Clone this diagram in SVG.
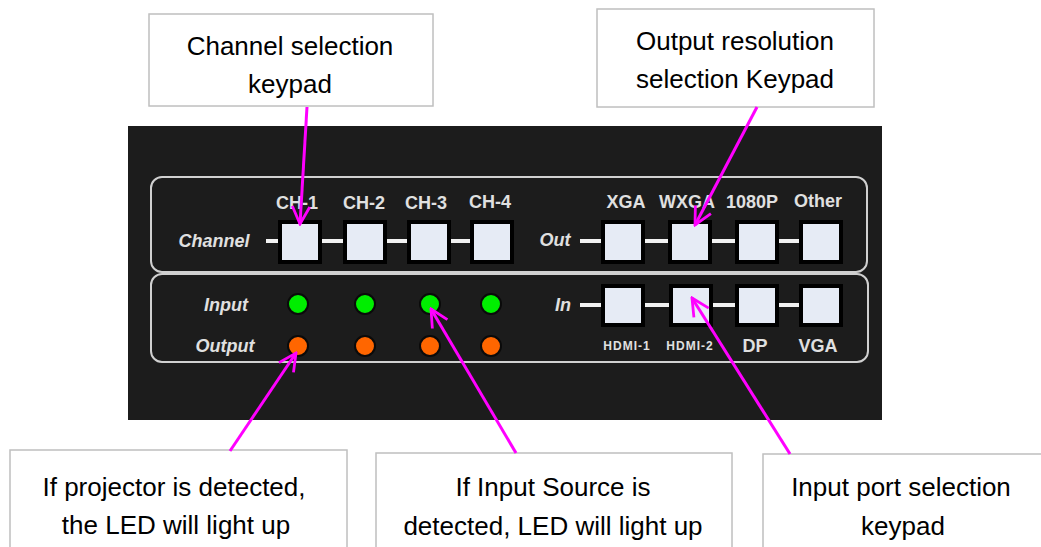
<svg xmlns="http://www.w3.org/2000/svg" width="1041" height="547" viewBox="0 0 1041 547">
<style>
.note{fill:#fff;stroke:#bfbfbf;stroke-width:1.5}
.nt{font-family:"Liberation Sans",Arial,sans-serif;font-size:26px;fill:#000;text-anchor:middle}
.frame{fill:none;stroke:#d0d0d0;stroke-width:2}
.btn{fill:#e6ebf5;stroke:#000;stroke-width:4}
.lbl{font-family:"Liberation Sans",Arial,sans-serif;font-weight:bold;font-size:18px;fill:#e0e0e0;text-anchor:middle}
.sm{font-size:12px;letter-spacing:1px}
.it{font-family:"Liberation Sans",Arial,sans-serif;font-weight:bold;font-style:italic;font-size:18px;fill:#e0e0e0;text-anchor:middle}
.wire{stroke:#f2f2f2;stroke-width:4}
.gled{fill:#00ee00;stroke:#0a0a0a;stroke-width:2}
.oled{fill:#ff6600;stroke:#0a0a0a;stroke-width:2}
.arr{stroke:#ff00ff;stroke-width:3;fill:none;marker-end:url(#ah)}
</style>
<defs>
<marker id="ah" viewBox="0 0 12 12" refX="11" refY="6" markerWidth="7" markerHeight="7" orient="auto" markerUnits="strokeWidth">
<polyline points="1,1 11,6 1,11" fill="none" stroke="#ff00ff" stroke-width="1.6"/>
</marker>
</defs>
<rect width="1041" height="547" fill="#fff"/>
<g id="panel">
<rect x="128" y="126" width="754" height="294" fill="#1c1c1c"/>
<rect class="frame" x="151" y="177" width="716" height="95" rx="11"/>
<rect class="frame" x="151" y="274" width="717" height="88" rx="11"/>
<text class="it" x="214" y="247">Channel</text>
<line class="wire" x1="266" y1="241" x2="511" y2="241"/>
<rect class="btn" x="280" y="222" width="40" height="40"/>
<rect class="btn" x="345" y="222" width="40" height="40"/>
<rect class="btn" x="409" y="222" width="40" height="40"/>
<rect class="btn" x="472" y="222" width="40" height="40"/>
<text class="lbl" x="297" y="209">CH-1</text>
<text class="lbl" x="364" y="209">CH-2</text>
<text class="lbl" x="426" y="209">CH-3</text>
<text class="lbl" x="490" y="208">CH-4</text>
<text class="it" x="555" y="246">Out</text>
<line class="wire" x1="580" y1="241" x2="840" y2="241"/>
<rect class="btn" x="603" y="222" width="40" height="40"/>
<rect class="btn" x="670" y="222" width="40" height="40"/>
<rect class="btn" x="737" y="222" width="40" height="40"/>
<rect class="btn" x="801" y="222" width="40" height="40"/>
<text class="lbl" x="626" y="208">XGA</text>
<text class="lbl" x="687" y="208">WXGA</text>
<text class="lbl" x="752" y="208">1080P</text>
<text class="lbl" x="818" y="207">Other</text>
<text class="it" x="226" y="311">Input</text>
<text class="it" x="225" y="352">Output</text>
<circle class="gled" cx="298" cy="304" r="10"/>
<circle class="gled" cx="365" cy="304" r="10"/>
<circle class="gled" cx="430" cy="304" r="10"/>
<circle class="gled" cx="491" cy="304" r="10"/>
<circle class="oled" cx="298" cy="346" r="10"/>
<circle class="oled" cx="365" cy="346" r="10"/>
<circle class="oled" cx="430" cy="346" r="10"/>
<circle class="oled" cx="491" cy="346" r="10"/>
<text class="it" x="563" y="311">In</text>
<line class="wire" x1="580" y1="305" x2="840" y2="305"/>
<rect class="btn" x="603" y="286" width="40" height="39"/>
<rect class="btn" x="671" y="286" width="40" height="39"/>
<rect class="btn" x="737" y="286" width="40" height="39"/>
<rect class="btn" x="801" y="286" width="40" height="39"/>
<text class="lbl sm" x="627" y="350">HDMI-1</text>
<text class="lbl sm" x="690" y="350">HDMI-2</text>
<text class="lbl" x="755" y="352">DP</text>
<text class="lbl" x="818" y="352">VGA</text>
</g>
<g id="n1">
<rect class="note" x="149" y="14" width="284" height="92"/>
<text class="nt" x="290" y="55">Channel selection</text>
<text class="nt" x="290" y="93">keypad</text>
</g>
<g id="n2">
<rect class="note" x="597" y="9" width="277" height="98"/>
<text class="nt" x="735" y="50">Output resolution</text>
<text class="nt" x="735" y="88">selection Keypad</text>
</g>
<g id="n3">
<rect class="note" x="10" y="450" width="337" height="110"/>
<text class="nt" x="174" y="496">If projector is detected,</text>
<text class="nt" x="176" y="534">the LED will light up</text>
</g>
<g id="n4">
<rect class="note" x="376" y="453" width="356" height="110"/>
<text class="nt" x="553" y="496">If Input Source is</text>
<text class="nt" x="553" y="535">detected, LED will light up</text>
</g>
<g id="n5">
<rect class="note" x="763" y="454" width="290" height="110"/>
<text class="nt" x="901" y="496">Input port selection</text>
<text class="nt" x="903" y="535">keypad</text>
</g>
<g id="connectors">
<line class="arr" x1="307" y1="107" x2="300" y2="224"/>
<line class="arr" x1="757" y1="107" x2="695" y2="225"/>
<line class="arr" x1="230" y1="451" x2="296" y2="353"/>
<line class="arr" x1="516" y1="453" x2="431" y2="309"/>
<line class="arr" x1="790" y1="454" x2="692" y2="298"/>
</g>
</svg>
